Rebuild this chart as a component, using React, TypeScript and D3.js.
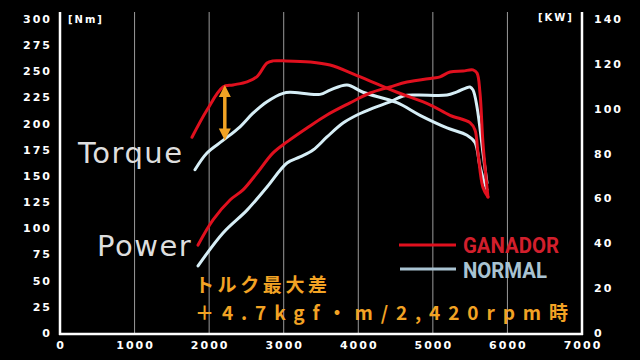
import React from 'react';
import * as d3 from 'd3';

// [rpm, value]
const ganadorTorque: [number, number][] = [
    [1770, 187], [1971, 213], [2186, 235], [2320, 237], [2508, 240], [2642, 245],
    [2776, 258], [2857, 260], [2991, 260], [3353, 259], [3621, 256], [3983, 246],
    [4519, 230], [4962, 218], [5230, 208], [5498, 201], [5565, 194], [5605, 172],
    [5672, 139], [5739, 130],
];
const normalTorque: [number, number][] = [
    [1810, 156], [1971, 172], [2186, 184], [2414, 197], [2588, 210], [2776, 221],
    [2991, 229], [3084, 230], [3487, 228], [3621, 232], [3849, 237], [4063, 230],
    [4519, 220], [4828, 208], [5190, 196], [5458, 189], [5565, 182], [5632, 159],
    [5699, 142], [5726, 137],
];
const ganadorPower: [number, number][] = [
    [1851, 39.2], [2052, 50.4], [2280, 59.3], [2454, 63.8], [2642, 71.3], [2857, 80.3],
    [3044, 85.2], [3312, 91.4], [3580, 97.2], [3889, 102.6], [4157, 107], [4425, 109.7],
    [4653, 111.9], [5002, 113.7], [5096, 114.2], [5230, 116.4], [5404, 116.8],
    [5538, 117.3], [5592, 115.9], [5632, 107], [5672, 84.7], [5739, 60.6],
];
const normalPower: [number, number][] = [
    [1851, 29.9], [2186, 44.6], [2508, 54.8], [2776, 65.1], [3044, 75.8], [3218, 78.5],
    [3393, 81.6], [3580, 87.4], [3795, 93.6], [3983, 97.2], [4197, 100.3], [4425, 103],
    [4600, 105.7], [4787, 106.1], [5190, 106.1], [5324, 107.5], [5498, 109.7],
    [5538, 108.4], [5592, 100.8], [5672, 80.3], [5726, 66.9],
];

const rpmTicks = [0, 1000, 2000, 3000, 4000, 5000, 6000, 7000];
const torqueTicks = [0, 25, 50, 75, 100, 125, 150, 175, 200, 225, 250, 275, 300];
const powerTicks = [0, 20, 40, 60, 80, 100, 120, 140];

// biggest torque gap marker: rpm, from, to (Nm)
const gapMarker = { rpm: 2210, from: 184, to: 237 };

const RED = '#e0101e';
const BLUE = '#d6eef6';
const ORANGE = '#f2a324';

const W = 640;
const H = 360;

const App: React.FC = () => {
    const x = d3.scaleLinear().domain([0, 7000]).range([60, 582]);
    const yT = d3.scaleLinear().domain([0, 300]).range([333, 19]);
    const yP = d3.scaleLinear().domain([0, 140]).range([333, 19]);

    const lineT = d3.line<[number, number]>()
        .x(d => x(d[0]))
        .y(d => yT(d[1]))
        .curve(d3.curveCatmullRom.alpha(0.5));
    const lineP = d3.line<[number, number]>()
        .x(d => x(d[0]))
        .y(d => yP(d[1]))
        .curve(d3.curveCatmullRom.alpha(0.5));

    const tickFont = {
        fontFamily: 'DejaVu Sans, sans-serif',
        fontWeight: 700,
        fontSize: 11,
        letterSpacing: 2,
    };
    const bigFont = { fontFamily: 'DejaVu Sans, sans-serif', fontSize: 29, letterSpacing: 1.5 };
    const legendFont = { fontFamily: 'Roboto, sans-serif', fontWeight: 700, fontSize: 22 };
    const noteFont = { fontFamily: 'Noto Sans CJK JP, sans-serif', fontWeight: 700, fontSize: 19 };

    const ax = x(gapMarker.rpm);
    const a1 = yT(gapMarker.to);
    const a2 = yT(gapMarker.from);

    return (
        <svg width={W} height={H} style={{ position: 'fixed', left: 0, top: 0, background: '#000' }}>
            <rect width={W} height={H} fill="#000" />

            {/* grid */}
            {rpmTicks.slice(1, -1).map(t => (
                <line key={t} x1={x(t)} x2={x(t)} y1={12} y2={334} stroke="#9a9a9a" strokeWidth={1} />
            ))}

            {/* axes frame */}
            <line x1={x(0)} x2={x(0)} y1={12} y2={335} stroke="#fff" strokeWidth={2.5} />
            <line x1={x(7000)} x2={x(7000)} y1={12} y2={335} stroke="#fff" strokeWidth={2.5} />
            <line x1={x(0) - 1} x2={x(7000) + 1} y1={334} y2={334} stroke="#fff" strokeWidth={2.5} />

            {torqueTicks.map(t => (
                <text key={t} x={52} y={yT(t)} dy="0.36em" textAnchor="end" fill="#fff" style={tickFont}>{t}</text>
            ))}
            {powerTicks.map(t => (
                <text key={t} x={594} y={yP(t)} dy="0.36em" fill="#fff" style={tickFont}>{t}</text>
            ))}
            {rpmTicks.map(t => (
                <text key={t} x={x(t) + 1} y={349} textAnchor="middle" fill="#fff" style={tickFont}>{t}</text>
            ))}
            <text x={68} y={23} fill="#fff" style={{ ...tickFont, fontSize: 10 }}>[Nm]</text>
            <text x={538} y={21} fill="#fff" style={{ ...tickFont, fontSize: 10 }}>[KW]</text>

            {/* curves */}
            <g fill="none" strokeWidth={3} strokeLinejoin="round" strokeLinecap="round">
                <path d={lineP(normalPower) ?? ''} stroke={BLUE} />
                <path d={lineT(normalTorque) ?? ''} stroke={BLUE} />
                <path d={lineP(ganadorPower) ?? ''} stroke={RED} />
                <path d={lineT(ganadorTorque) ?? ''} stroke={RED} />
            </g>

            {/* torque gap arrow */}
            <g fill={ORANGE} stroke={ORANGE}>
                <line x1={ax} x2={ax} y1={a1 + 8} y2={a2 - 8} strokeWidth={3.5} />
                <path d={`M${ax},${a1} L${ax - 6},${a1 + 12} L${ax + 6},${a1 + 12} Z`} stroke="none" />
                <path d={`M${ax},${a2} L${ax - 6},${a2 - 12} L${ax + 6},${a2 - 12} Z`} stroke="none" />
            </g>

            <text x={78} y={163} fill="#dedede" style={bigFont}>Torque</text>
            <text x={97} y={256} fill="#dedede" style={bigFont}>Power</text>

            {/* legend */}
            <line x1={399} x2={456} y1={245} y2={245} stroke={RED} strokeWidth={3} />
            <line x1={400} x2={456} y1={269} y2={269} stroke="#a9c3d2" strokeWidth={3} />
            <text x={463} y={253} fill="#d21f2c" textLength={96} lengthAdjust="spacingAndGlyphs" style={legendFont}>GANADOR</text>
            <text x={463} y={278} fill="#a9c3d2" textLength={84} lengthAdjust="spacingAndGlyphs" style={legendFont}>NORMAL</text>

            {/* annotation */}
            <text x={195} y={292} fill={ORANGE} textLength={132} lengthAdjust="spacing" style={noteFont}>トルク最大差</text>
            <text x={195} y={320} fill={ORANGE} textLength={373} lengthAdjust="spacing" style={noteFont}>＋4.7kgf・m/2,420rpm時</text>
        </svg>
    );
};

export default App;
